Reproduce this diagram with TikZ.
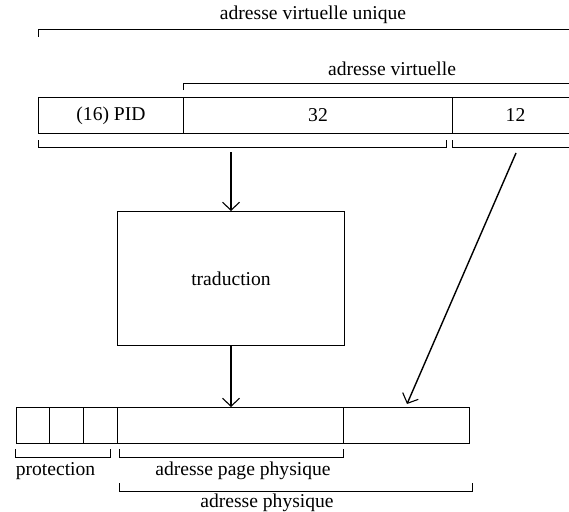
\documentclass[tikz,border=0pt]{standalone}
\usepackage{fontspec}
\setmainfont{Liberation Serif}
\usetikzlibrary{arrows.meta}
\newcommand\diaglbl{\fontsize{19.6}{23}\selectfont}
\begin{document}
\begin{tikzpicture}[x=1pt,y=-1pt,
  field/.style={draw, line width=1pt, inner sep=0pt, anchor=north west,
                minimum height=36pt, font=\diaglbl},
  brace/.style={draw, line width=1pt},
  lbl/.style={inner sep=0pt, font=\diaglbl},
  arr/.style={line width=1.4pt, -{Straight Barb[length=8pt,width=17pt,line width=1.1pt]}}]
\useasboundingbox (0,0) rectangle (569,511);
\clip (0,0) rectangle (569,511);

% virtual address fields
\node[field, minimum width=145pt] (pid) at (38,97) {(16) PID};
\node[field, minimum width=269pt] (vpage) at (183,97) {32};
\node[field, minimum width=126pt] (voff) at (452,97) {12};

% brackets above the virtual address
\node[lbl] (vuniq) at (313,15) {adresse virtuelle unique};
\draw[brace] (38,37) -- (38,30) -- (580,30);
\node[lbl] (vaddr) at (392,69) {adresse virtuelle};
\draw[brace] (183,90) -- (183,83) -- (580,83);

% brackets below the virtual address
\draw[brace] (38,140) -- (38,147) -- (446,147) -- (446,140);
\draw[brace] (452,140) -- (452,147) -- (580,147);

% translation unit
\node[field, minimum width=227pt, minimum height=134pt] (trad) at (117,211) {traduction};

% physical address fields
\node[field, minimum width=33.7pt] (prot1) at (15.6,407) {};
\node[field, minimum width=33.8pt] (prot2) at (49.3,407) {};
\node[field, minimum width=33.4pt] (prot3) at (83.1,407) {};
\node[field, minimum width=226.4pt] (ppage) at (116.5,407) {};
\node[field, minimum width=125.9pt] (poff) at (342.9,407) {};

% brackets below the physical address
\draw[brace] (15.6,449) -- (15.6,457) -- (110.7,457) -- (110.7,449);
\draw[brace] (119,449) -- (119,457) -- (343,457) -- (343,449);
\node[lbl, anchor=west] (lprot) at (15.6,471) {protection};
\node[lbl] (lpage) at (243,471) {adresse page physique};
\draw[brace] (119,483) -- (119,491) -- (472,491) -- (472,483);
\node[lbl] (lphys) at (267,503) {adresse physique};

% data flow
\coordinate (vsrc) at (231,152);
\coordinate (osrc) at (516,153);
\coordinate (odst) at (407,404);
\draw[arr] (vsrc) -- (vsrc |- trad.north);
\draw[arr] (trad.south) -- (trad.south |- ppage.north);
\draw[arr] (osrc) -- (odst);
\end{tikzpicture}
\end{document}
